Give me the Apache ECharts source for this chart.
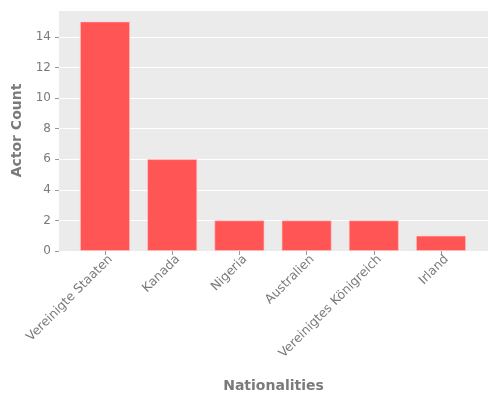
<!DOCTYPE html>
<html><head><meta charset="utf-8">
<script src="https://cdn.jsdelivr.net/npm/echarts@6/dist/echarts.min.js"></script>
<style>html,body{margin:0;padding:0;background:#fff}#c{width:500px;height:400px}</style>
</head><body><div id="c"></div>
<script>
const categories = ["Vereinigte Staaten","Kanada","Nigeria","Australien","Vereinigtes Königreich","Irland"];
const actorCounts = [15, 6, 2, 2, 2, 1];
const yTicks = [0, 2, 4, 6, 8, 10, 12, 14];

const txt = '#7a7a7a';
const font = 'DejaVu Sans';
const chart = echarts.init(document.getElementById('c'), null, {renderer:'canvas'});
chart.setOption({
  animation:false,
  textStyle:{fontFamily:font},
  grid:[
    {left:59, right:12, top:10, bottom:149, show:true, backgroundColor:'#EBEBEB', borderWidth:0, outerBoundsMode:'none', containLabel:false},
    {left:71.4, right:25.4, top:10, bottom:149, outerBoundsMode:'none', containLabel:false}
  ],
  xAxis:[
    {gridIndex:0, type:'value', min:0, max:1, axisLine:{show:false}, axisTick:{show:false}, axisLabel:{show:false}, splitLine:{show:false},
     name:'Nationalities', nameLocation:'middle', nameGap:128, nameTextStyle:{color:txt, fontSize:14, fontWeight:'bold', fontFamily:font}},
    {gridIndex:1, type:'category', data:categories, axisLine:{show:false},
     axisTick:{show:true, alignWithLabel:true, length:4, lineStyle:{color:'#999'}},
     axisLabel:{rotate:45, color:txt, fontSize:12.5, fontFamily:font, margin:12, interval:0, padding:[0,-8,0,0]}}
  ],
  yAxis:[
    {gridIndex:0, type:'value', min:0, max:15.75, interval:2,
     axisLine:{show:false}, axisTick:{show:true, length:4, lineStyle:{color:'#999'}},
     axisLabel:{color:txt, fontSize:12, fontFamily:font, margin:8, showMaxLabel:false,
       formatter:v => yTicks.includes(v) ? String(v) : ''},
     splitLine:{show:true, lineStyle:{color:'#ffffff', width:1}},
     name:'Actor Count', nameLocation:'middle', nameGap:29, nameTextStyle:{color:txt, fontSize:14, fontWeight:'bold', fontFamily:font}},
    {gridIndex:1, type:'value', min:0, max:15.75, show:false, splitLine:{show:false}}
  ],
  series:[{
    type:'bar', xAxisIndex:1, yAxisIndex:1, data:actorCounts, barWidth:50,
    itemStyle:{color:'#FF5555', borderColor:'rgba(255,200,200,0.8)', borderWidth:0.8}
  }]
});
</script></body></html>
